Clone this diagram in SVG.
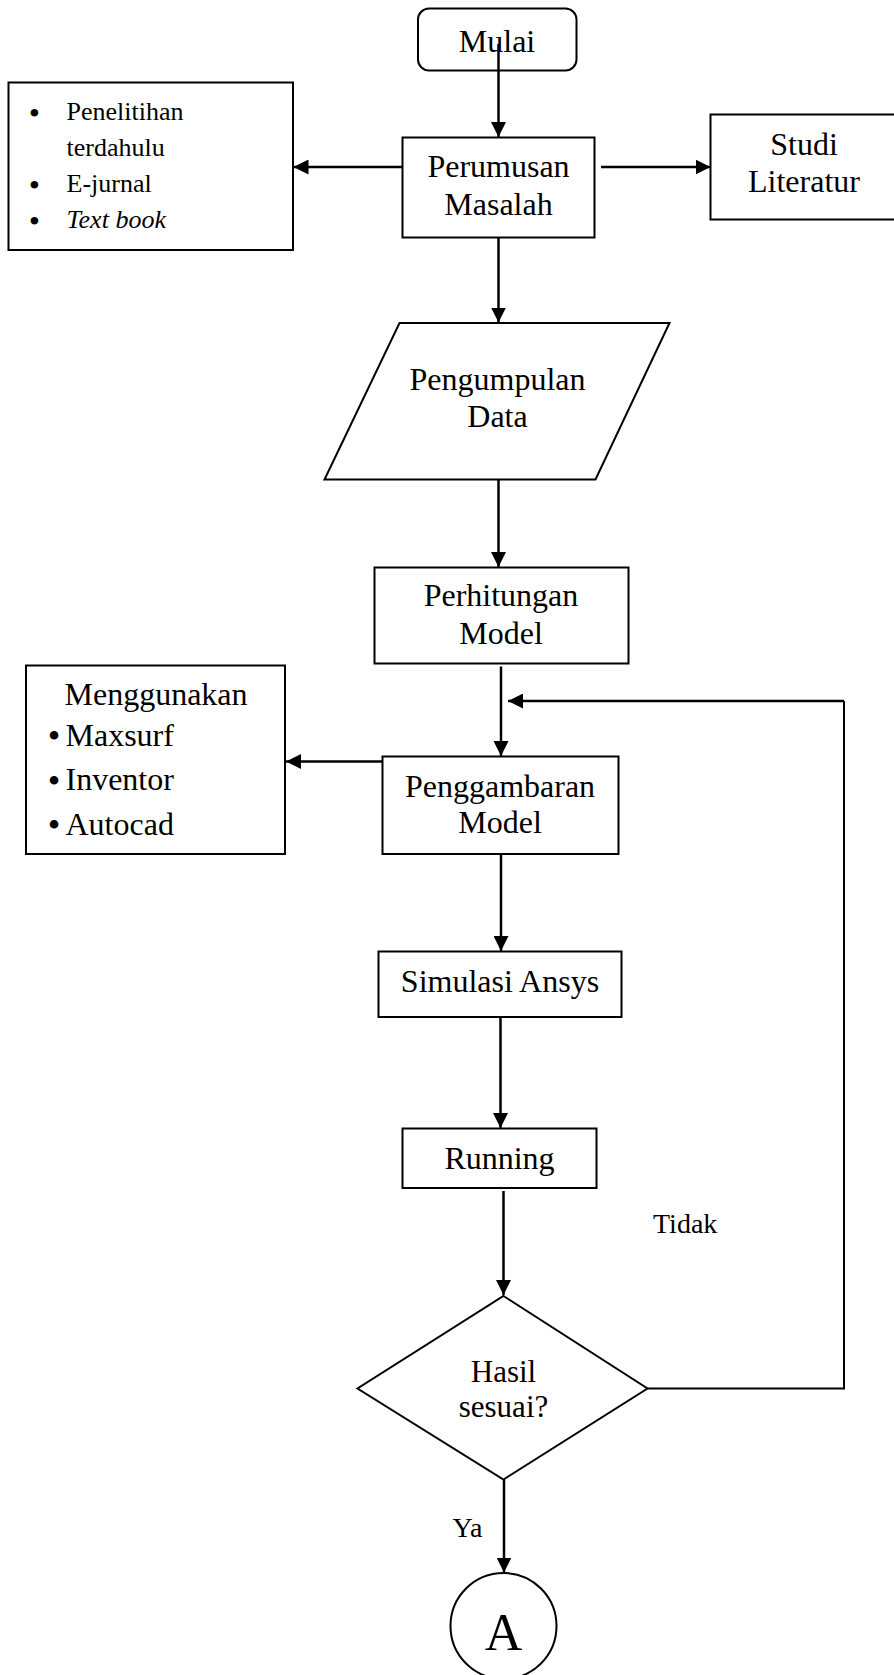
<svg xmlns="http://www.w3.org/2000/svg" width="894" height="1675" viewBox="0 0 894 1675">
<style>
.b{fill:#fff;stroke:#000;stroke-width:2}
.t{font-family:"Liberation Serif","Times New Roman",serif;font-size:32px;fill:#000;text-anchor:middle}
.s{font-family:"Liberation Serif","Times New Roman",serif;font-size:26px;fill:#000}
.m{font-family:"Liberation Serif","Times New Roman",serif;font-size:32px;fill:#000}
.l{font-family:"Liberation Serif","Times New Roman",serif;font-size:28px;fill:#000}
.d{font-family:"Liberation Serif","Times New Roman",serif;font-size:36px;fill:#000;text-anchor:middle}
.e{font-family:"Liberation Serif","Times New Roman",serif;font-size:28px;font-weight:bold;fill:#000;text-anchor:middle}
.c{fill:none;stroke:#000;stroke-width:2.5}
.f{fill:none;stroke:#000;stroke-width:2}
</style>
<defs>
<marker id="ah" markerWidth="6" markerHeight="6" refX="6" refY="3" orient="auto" markerUnits="strokeWidth">
<path d="M0,0 L6,3 L0,6 Z" fill="#000"/>
</marker>
</defs>
<rect width="894" height="1675" fill="#fff"/>
<g id="mulai">
<rect class="b" x="418" y="8.5" width="158.5" height="62" rx="11"/>
<text class="t" x="497" y="51.5">Mulai</text>
</g>
<g id="referensi">
<rect class="b" x="8.5" y="82.5" width="284.5" height="167.5"/>
<text class="e" x="34.5" y="122">•</text>
<text class="s" x="66.5" y="120">Penelitihan</text>
<text class="s" x="66.5" y="155.5">terdahulu</text>
<text class="e" x="34.5" y="193.5">•</text>
<text class="s" x="66.5" y="191.5">E-jurnal</text>
<text class="e" x="34.5" y="229.5">•</text>
<text class="s" x="66.5" y="227.5" font-style="italic">Text book</text>
</g>
<g id="perumusan">
<rect class="b" x="402.5" y="137.5" width="192" height="100"/>
<text class="t" x="498.5" y="177">Perumusan</text>
<text class="t" x="498.5" y="215">Masalah</text>
</g>
<g id="studi">
<rect class="b" x="710.5" y="114.5" width="190" height="105"/>
<text class="t" x="804" y="155">Studi</text>
<text class="t" x="804" y="191.5">Literatur</text>
</g>
<g id="pengumpulan">
<polygon class="b" points="399.5,323 669.5,323 595.5,479.5 324.5,479.5"/>
<text class="t" x="497.5" y="390">Pengumpulan</text>
<text class="t" x="497.5" y="426.5">Data</text>
</g>
<g id="perhitungan">
<rect class="b" x="374.5" y="567.5" width="254" height="96"/>
<text class="t" x="501" y="606">Perhitungan</text>
<text class="t" x="501" y="644">Model</text>
</g>
<g id="menggunakan">
<rect class="b" x="26" y="665.5" width="259" height="188.5"/>
<text class="m" x="156" y="704.5" text-anchor="middle">Menggunakan</text>
<text class="d" x="54" y="748">•</text>
<text class="m" x="65.5" y="745.5">Maxsurf</text>
<text class="d" x="54" y="792.5">•</text>
<text class="m" x="65.5" y="790">Inventor</text>
<text class="d" x="54" y="837">•</text>
<text class="m" x="65.5" y="834.5">Autocad</text>
</g>
<g id="penggambaran">
<rect class="b" x="382.5" y="756.5" width="236" height="97.5"/>
<text class="t" x="500" y="796.5">Penggambaran</text>
<text class="t" x="500" y="832.5">Model</text>
</g>
<g id="simulasi">
<rect class="b" x="378.5" y="951.5" width="243" height="65.5"/>
<text class="t" x="500" y="991.5">Simulasi Ansys</text>
</g>
<g id="running">
<rect class="b" x="402.5" y="1128.5" width="194" height="59.5"/>
<text class="t" x="499.5" y="1169">Running</text>
</g>
<g id="keputusan">
<polygon class="b" points="503.5,1296 647.5,1388.5 503.5,1479.5 357.5,1388.5"/>
<text class="t" x="503.5" y="1381.5" style="font-size:31px">Hasil</text>
<text class="t" x="503.5" y="1417" style="font-size:31px">sesuai?</text>
</g>
<g id="konektor-a">
<circle class="b" cx="503.5" cy="1626" r="53"/>
<text class="t" x="503.5" y="1650" style="font-size:52px">A</text>
</g>
<g id="connectors">
<line class="c" x1="498.5" y1="44" x2="498.5" y2="137" marker-end="url(#ah)"/>
<line class="c" x1="402.5" y1="167" x2="293.5" y2="167" marker-end="url(#ah)"/>
<line class="c" x1="601" y1="167" x2="710.5" y2="167" marker-end="url(#ah)"/>
<line class="c" x1="498.5" y1="237.5" x2="498.5" y2="322.5" marker-end="url(#ah)"/>
<line class="c" x1="498.5" y1="479.5" x2="498.5" y2="567" marker-end="url(#ah)"/>
<line class="c" x1="501" y1="666.5" x2="501" y2="756" marker-end="url(#ah)"/>
<line class="c" x1="382.5" y1="761.5" x2="286" y2="761.5" marker-end="url(#ah)"/>
<line class="c" x1="501" y1="854" x2="501" y2="951" marker-end="url(#ah)"/>
<line class="c" x1="500.5" y1="1017" x2="500.5" y2="1128" marker-end="url(#ah)"/>
<line class="c" x1="503.5" y1="1191" x2="503.5" y2="1295" marker-end="url(#ah)"/>
<line class="c" x1="504" y1="1480" x2="504" y2="1572.5" marker-end="url(#ah)"/>
<polyline class="f" points="647.5,1388.5 844,1388.5 844,701"/>
<line class="c" x1="844" y1="701" x2="508" y2="701" marker-end="url(#ah)"/>
<text class="l" x="653" y="1232.5">Tidak</text>
<text class="l" x="452.5" y="1536.5">Ya</text>
</g>
</svg>
